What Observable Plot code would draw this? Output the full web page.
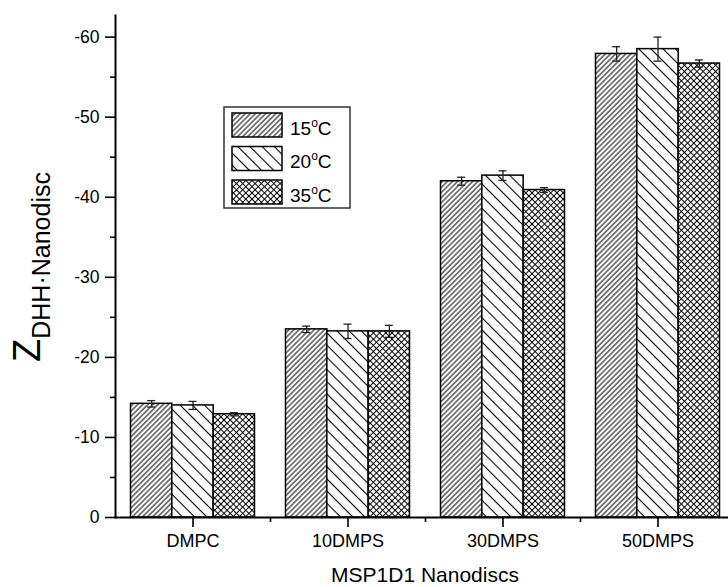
<!DOCTYPE html>
<html><head><meta charset="utf-8">
<script src="https://cdn.jsdelivr.net/npm/d3@7"></script>
<script src="https://cdn.jsdelivr.net/npm/@observablehq/plot@0.6"></script>
<style>
body{margin:0;background:#fff;}
#chart svg{display:block;}
</style></head><body><div id="chart"></div>
<script>
// ---- data ----
const categories = ["DMPC", "10DMPS", "30DMPS", "50DMPS"];
const seriesNames = ["15°C", "20°C", "35°C"];
const values15 = [-14.2, -23.5, -42.0, -57.9];
const values20 = [-14.0, -23.25, -42.7, -58.5];
const values35 = [-12.9, -23.25, -40.9, -56.7];
const errors15 = [0.4, 0.4, 0.5, 0.9];
const errors20 = [0.5, 0.9, 0.6, 1.5];
const errors35 = [0.2, 0.75, 0.3, 0.45];
const yTicks = [0, -10, -20, -30, -40, -50, -60];
const yMinorTicks = [-5, -15, -25, -35, -45, -55];
const yLabelMain = "Z";
const yLabelSub = "DHH·Nanodisc";
const xLabel = "MSP1D1 Nanodiscs";

const seriesValues = [values15, values20, values35];
const seriesErrors = [errors15, errors20, errors35];
const patternIds = ["p15", "p20", "p35"];

const table = [];
categories.forEach((c, i) => seriesNames.forEach((s, j) => {
  table.push({cat: c, ci: i, series: s, sj: j, value: seriesValues[j][i], err: seriesErrors[j][i]});
}));

const groupFrac = 0.8;                       // share of each category slot used by its bars
const barFrac = groupFrac / seriesNames.length;
const left = d => d.ci - groupFrac / 2 + d.sj * barFrac;
const right = d => left(d) + barFrac;
const mid = d => left(d) + barFrac / 2;

const font = "'Liberation Sans', Arial, Helvetica, sans-serif";

const chart = Plot.plot({
  width: 728, height: 587,
  marginLeft: 115, marginRight: 0, marginTop: 15, marginBottom: 70,
  style: {fontFamily: font, background: "#fff", color: "#000"},
  x: {type: "linear", domain: [-0.5, categories.length - 0.5], range: [115, 735]},
  y: {domain: [0, -62.7]},
  color: {domain: seriesNames, range: patternIds.map(id => `url(#${id})`)},
  marks: [
    Plot.rectY(table, {x1: left, x2: right, y1: 0, y2: "value", fill: "series", stroke: "#000", strokeWidth: 1.5}),
    Plot.ruleX(table, {x: mid, y1: d => d.value - d.err, y2: d => d.value + d.err, stroke: "#222", strokeWidth: 1.3}),
    Plot.ruleY(table, {x1: mid, x2: mid, y: d => d.value - d.err, insetLeft: -4, insetRight: -4, stroke: "#222", strokeWidth: 1.3}),
    Plot.ruleY(table, {x1: mid, x2: mid, y: d => d.value + d.err, insetLeft: -4, insetRight: -4, stroke: "#222", strokeWidth: 1.3}),
    Plot.axisY({ticks: yTicks, tickSize: 10, tickPadding: 6, tickFormat: d => String(d), fontSize: 17.5, label: null, strokeWidth: 1.6}),
    Plot.axisY({ticks: yMinorTicks, tickSize: 5, tickFormat: () => "", label: null, strokeWidth: 1.6}),
    Plot.axisX({ticks: d3.range(categories.length), tickFormat: i => categories[i], tickSize: 10, tickPadding: 7, fontSize: 18, label: null, strokeWidth: 1.6}),
    Plot.axisX({ticks: d3.range(categories.length - 1).map(i => i + 0.5), tickSize: 5, tickFormat: () => "", label: null, strokeWidth: 1.6}),
    Plot.frame({anchor: "left", strokeWidth: 2}),
    Plot.frame({anchor: "bottom", strokeWidth: 2})
  ]
});

const ns = "http://www.w3.org/2000/svg";
const el = (name, attrs, parent) => {
  const e = document.createElementNS(ns, name);
  for (const k in attrs) e.setAttribute(k, attrs[k]);
  if (parent) parent.appendChild(e);
  return e;
};

// hatch patterns
const defs = el("defs", {});
chart.insertBefore(defs, chart.firstChild);
function hatch(id, size, angle, cross, sw) {
  const p = el("pattern", {id, patternUnits: "userSpaceOnUse", width: size, height: size, patternTransform: `rotate(${angle})`}, defs);
  el("rect", {width: size, height: size, fill: "#fff"}, p);
  el("line", {x1: size / 2, y1: 0, x2: size / 2, y2: size, stroke: "#000", "stroke-width": sw}, p);
  if (cross) el("line", {x1: 0, y1: size / 2, x2: size, y2: size / 2, stroke: "#000", "stroke-width": sw}, p);
}
hatch("p15", 3.6, 45, false, 1);
hatch("p20", 8.6, -45, false, 1.1);
hatch("p35", 4.4, 45, true, 1);

// legend
const lg = el("g", {"font-family": font, fill: "#000", "text-anchor": "start"}, chart);
el("rect", {x: 224, y: 107, width: 126, height: 101, fill: "#fff", stroke: "#333", "stroke-width": 1.5}, lg);
seriesNames.forEach((s, j) => {
  const y0 = 113 + j * 33.5;
  el("rect", {x: 232, y: y0, width: 50, height: 24, fill: `url(#${patternIds[j]})`, stroke: "#000", "stroke-width": 1.5}, lg);
  const t = el("text", {x: 290, y: y0 + 21.5, "font-size": 19, "text-anchor": "start"}, lg);
  const [num, unit] = s.split("°");
  const t1 = el("tspan", {}, t); t1.textContent = num;
  const t2 = el("tspan", {dy: -8, "font-size": 12}, t); t2.textContent = "o";
  const t3 = el("tspan", {dy: 8, "font-size": 19}, t); t3.textContent = unit;
});

// axis titles
const yl = el("text", {transform: "translate(40,362) rotate(-90)", "font-family": font, fill: "#000", "text-anchor": "start"}, chart);
const z1 = el("tspan", {"font-size": 38}, yl); z1.textContent = yLabelMain;
const z2 = el("tspan", {"font-size": 25, dy: 10}, yl); z2.textContent = yLabelSub;

const xs = chart.scale("x");
const xt = el("text", {x: xs.apply((categories.length - 1) / 2), y: 582, "text-anchor": "middle", "font-size": 21, "font-family": font, fill: "#000"}, chart);
xt.textContent = xLabel;

document.getElementById("chart").appendChild(chart);
</script></body></html>
